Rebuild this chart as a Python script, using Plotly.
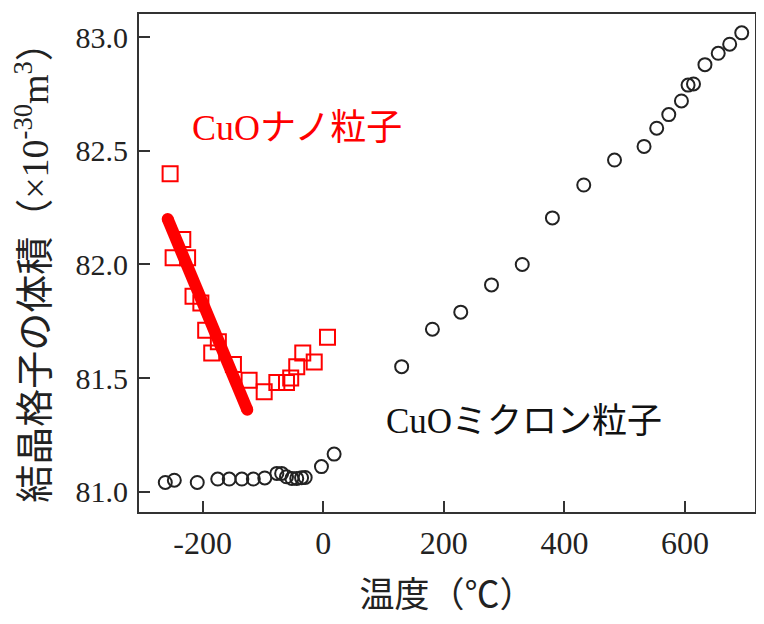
import plotly.graph_objects as go

# --- data ---
nano_temp = [-254, -233, -249, -225, -216, -203, -195, -174, -185, -149,
             -123, -98, -77, -61, -54, -44, -34, -15, 7]
nano_vol = [82.40, 82.11, 82.03, 82.03, 81.86, 81.83, 81.71, 81.66, 81.61, 81.56,
            81.49, 81.44, 81.48, 81.48, 81.50, 81.55, 81.61, 81.57, 81.68]

nano_fit_temp = [-258, -126]
nano_fit_vol = [82.20, 81.36]

micron_temp = [-262, -247, -209, -175, -156, -135, -116, -97, -77, -69,
               -61, -52, -44, -36, -30, -3, 18,
               130, 181, 228, 279, 330, 380, 432, 483, 532, 553, 573, 594,
               605, 614, 633, 655, 674, 694]
micron_vol = [81.04, 81.05, 81.04, 81.055, 81.055, 81.055, 81.055, 81.06, 81.08, 81.08,
              81.065, 81.058, 81.058, 81.061, 81.062, 81.11, 81.165,
              81.55, 81.715, 81.79, 81.91, 82.00, 82.205, 82.35, 82.46, 82.52, 82.60,
              82.66, 82.72, 82.79, 82.795, 82.88, 82.93, 82.97, 83.02]

x_ticks = [-200, 0, 200, 400, 600]
x_tick_labels = ["-200", "0", "200", "400", "600"]
y_ticks = [81.0, 81.5, 82.0, 82.5, 83.0]
y_tick_labels = ["81.0", "81.5", "82.0", "82.5", "83.0"]

SERIF = "Liberation Serif, Noto Sans CJK JP, serif"
AXIS_COLOR = "#333333"

fig = go.Figure()

fig.add_trace(go.Scatter(
    x=micron_temp, y=micron_vol, mode="markers",
    marker=dict(symbol="circle-open", size=13, color="#222222",
                line=dict(width=2, color="#222222")),
    showlegend=False, hoverinfo="x+y"))

fig.add_trace(go.Scatter(
    x=nano_fit_temp, y=nano_fit_vol, mode="lines+markers",
    line=dict(color="#ff0000", width=12),
    marker=dict(symbol="circle", size=12, color="#ff0000"),
    showlegend=False, hoverinfo="skip"))

fig.add_trace(go.Scatter(
    x=nano_temp, y=nano_vol, mode="markers",
    marker=dict(symbol="square-open", size=15, color="#ff0000",
                line=dict(width=2, color="#ff0000")),
    showlegend=False, hoverinfo="x+y"))

fig.add_annotation(x=-43, y=82.60, xref="x", yref="y",
                   text="CuOナノ粒子", showarrow=False,
                   font=dict(family=SERIF, size=36, color="#ff0000"))
fig.add_annotation(x=333, y=81.31, xref="x", yref="y",
                   text="CuOミクロン粒子", showarrow=False,
                   font=dict(family=SERIF, size=35, color="#111111"))

fig.update_layout(
    width=748, height=608,
    margin=dict(l=131, r=1, t=6, b=104, autoexpand=False),
    paper_bgcolor="white", plot_bgcolor="white",
    font=dict(family=SERIF, color="#222222"),
    xaxis=dict(
        range=[-305.6, 716.0], tickvals=x_ticks, ticktext=x_tick_labels,
        ticks="inside", ticklen=11, tickwidth=2, tickcolor=AXIS_COLOR,
        showline=True, linewidth=2, linecolor=AXIS_COLOR, mirror=True,
        showgrid=False, zeroline=False, automargin=False,
        tickfont=dict(family=SERIF, size=32, color="#222222"),
        ticklabelstandoff=2,
        title=dict(text="温度（℃）", font=dict(family=SERIF, size=35, color="#222222"),
                   standoff=22),
    ),
    yaxis=dict(
        range=[80.910, 83.103], tickvals=y_ticks, ticktext=y_tick_labels,
        ticks="inside", ticklen=11, tickwidth=2, tickcolor=AXIS_COLOR,
        showline=True, linewidth=2, linecolor=AXIS_COLOR, mirror=True,
        showgrid=False, zeroline=False, automargin=False,
        tickfont=dict(family=SERIF, size=30, color="#222222"),
        ticklabelstandoff=3,
        title=dict(text="結晶格子の体積（×10<sup>-30</sup>m<sup>3</sup>）",
                   font=dict(family=SERIF, size=38, color="#222222"),
                   standoff=19),
    ),
)

fig.write_html("out.html")
